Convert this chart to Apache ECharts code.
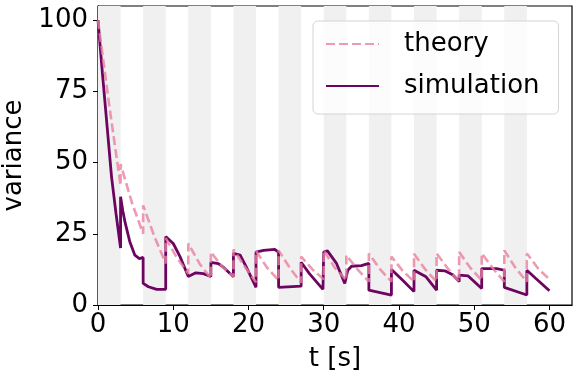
<!DOCTYPE html>
<html>
<head>
<meta charset="utf-8">
<script src="https://cdn.jsdelivr.net/npm/echarts@6/dist/echarts.min.js"></script>
<style>
  html, body { margin: 0; padding: 0; background: #fff; }
  #chart { width: 580px; height: 377px; }
</style>
</head>
<body>
<div id="chart"></div>
<script>
  // shaded intervals (start of each 3 s band)
  var bandStarts = [0, 6, 12, 18, 24, 30, 36, 42, 48, 54];
  var bandWidth = 3;

  // theory: sawtooth, jumps every 3 s
  var theoryTime = [0, 1.5, 3, 3, 4.5, 6, 6, 7.5, 9, 9, 10.5, 12, 12, 13.5, 15, 15,
    16.5, 18, 18, 19.5, 21, 21, 22.5, 24, 24, 25.5, 27, 27, 28.5, 30, 30,
    31.5, 33, 33, 34.5, 36, 36, 37.5, 39, 39, 40.5, 42, 42, 43.5, 45, 45,
    46.5, 48, 48, 49.5, 51, 51, 52.5, 54, 54, 55.5, 57, 57, 58.5, 60];
  var theoryVariance = [100, 70, 42, 49.5, 36, 25, 35, 24, 14.6, 23.5, 16.5, 11, 21.6, 14.5, 9.4, 18.6,
    13.5, 9.9, 19.5, 13.5, 8, 19, 13, 8.7, 19.2, 13, 7.8, 17, 12.5, 9, 19.2,
    13, 8.7, 17.5, 12.5, 8.2, 18.1, 12.5, 8.2, 17, 12, 8.2, 18, 12.5, 8.2, 18.1,
    12.8, 8.2, 18.6, 13, 8.7, 18.1, 12.8, 8.2, 19.2, 13, 8.2, 18.1, 12.8, 9];

  // simulation
  var simTime = [0, 0.6, 1.2, 1.8, 2.4, 3, 3, 3.3, 3.6, 4.25, 4.9, 5.5, 6, 6,
    6.7, 7.8, 9, 9, 10, 10.9, 12, 13, 14, 15, 15, 16, 16.6, 18, 18,
    18.9, 19.7, 21, 21, 22, 23.5, 24, 24, 27, 27, 28.1, 29.9, 30,
    30.5, 31.7, 32.8, 33, 33.2, 33.7, 35, 36, 36, 39, 39, 40.5, 42, 42,
    43.6, 45, 45, 46.1, 47.2, 48, 48, 49.2, 51, 51, 53, 54, 54, 57, 57,
    58.2, 60];
  var simVariance = [100, 81, 63, 45, 32, 20, 38, 33, 29, 22, 17.5, 16.3, 16.7, 7.6,
    6.4, 5.5, 5.5, 24, 21.6, 17, 10, 11.3, 11, 10, 15, 14.5, 13.4, 9.9, 18.1,
    17.5, 13.4, 6.2, 18.6, 19.2, 19.5, 18.6, 6.2, 6.6, 15, 11, 5.5, 18.6,
    19, 14.6, 7.6, 7.5, 12.2, 13.6, 13.8, 14.6, 5.2, 3.5, 12.5, 8.7, 4.7, 12.2,
    9.9, 5.2, 12.2, 12, 10.5, 8.2, 10.5, 10.2, 5.8, 12.8, 12.8, 12.2, 6.2, 3.5, 12.2,
    9.3, 5.0];

  var xTicks = [0, 10, 20, 30, 40, 50, 60];
  var yTicks = [0, 25, 50, 75, 100];

  function pairs(xs, ys) {
    return xs.map(function (x, i) { return [x, ys[i]]; });
  }

  var font = 'DejaVu Sans';
  var chart = echarts.init(document.getElementById('chart'), null, {renderer: 'canvas'});

  chart.setOption({
    animation: false,
    backgroundColor: '#fff',
    grid: {
      left: 98,
      right: 8,
      top: 6,
      bottom: 72,
      outerBoundsMode: 'none',
      containLabel: false,
      show: true,
      borderColor: '#000',
      borderWidth: 1.2
    },
    legend: {
      data: ['theory', 'simulation'],
      orient: 'vertical',
      left: 313,
      top: 21,
      itemWidth: 53,
      itemHeight: 26,
      itemGap: 16,
      padding: [10, 19, 15, 12],
      backgroundColor: 'rgba(255,255,255,0.8)',
      borderColor: '#d4d4d4',
      borderWidth: 1,
      borderRadius: 5,
      itemStyle: {opacity: 0, borderWidth: 0},
      textStyle: {
        fontFamily: font,
        fontSize: 26,
        color: '#000',
        padding: [0, 0, 0, 20]
      }
    },
    xAxis: {
      type: 'value',
      min: 0,
      max: 63,
      interval: 10,
      name: 't [s]',
      nameLocation: 'middle',
      nameGap: 41,
      nameTextStyle: {fontFamily: font, fontSize: 26, color: '#000'},
      splitLine: {show: false},
      axisLine: {lineStyle: {color: '#000', width: 1.2}},
      axisTick: {inside: false, length: 5, lineStyle: {color: '#000'}},
      axisLabel: {
        fontFamily: font, fontSize: 26, color: '#000', margin: 7,
        showMaxLabel: false,
        formatter: function (v) { return xTicks.indexOf(v) >= 0 ? String(v) : ''; }
      }
    },
    yAxis: {
      type: 'value',
      min: 0,
      max: 105,
      interval: 25,
      name: 'variance',
      nameLocation: 'middle',
      nameGap: 70,
      nameTextStyle: {fontFamily: font, fontSize: 26, color: '#000'},
      splitLine: {show: false},
      axisLine: {show: true, lineStyle: {color: '#000', width: 1.2}},
      axisTick: {show: true, inside: false, length: 5, lineStyle: {color: '#000'}},
      axisLabel: {
        fontFamily: font, fontSize: 26, color: '#000', margin: 10,
        showMaxLabel: false,
        formatter: function (v) { return yTicks.indexOf(v) >= 0 ? String(v) : ''; }
      }
    },
    series: [
      {
        name: 'bands',
        type: 'line',
        data: [],
        z: 1,
        silent: true,
        markArea: {
          silent: true,
          itemStyle: {color: '#f0f0f0'},
          data: bandStarts.map(function (s) {
            return [{xAxis: s}, {xAxis: s + bandWidth}];
          })
        }
      },
      {
        name: 'simulation',
        type: 'line',
        data: pairs(simTime, simVariance),
        showSymbol: false,
        symbol: 'none',
        z: 2,
        lineStyle: {color: '#6c0460', width: 2.8},
        itemStyle: {color: '#6c0460'}
      },
      {
        name: 'theory',
        type: 'line',
        data: pairs(theoryTime, theoryVariance),
        showSymbol: false,
        symbol: 'none',
        z: 3,
        lineStyle: {color: '#e8819f', width: 2.6, type: [9, 4], opacity: 0.8},
        itemStyle: {color: '#e8819f', opacity: 0.8}
      }
    ]
  });
</script>
</body>
</html>
